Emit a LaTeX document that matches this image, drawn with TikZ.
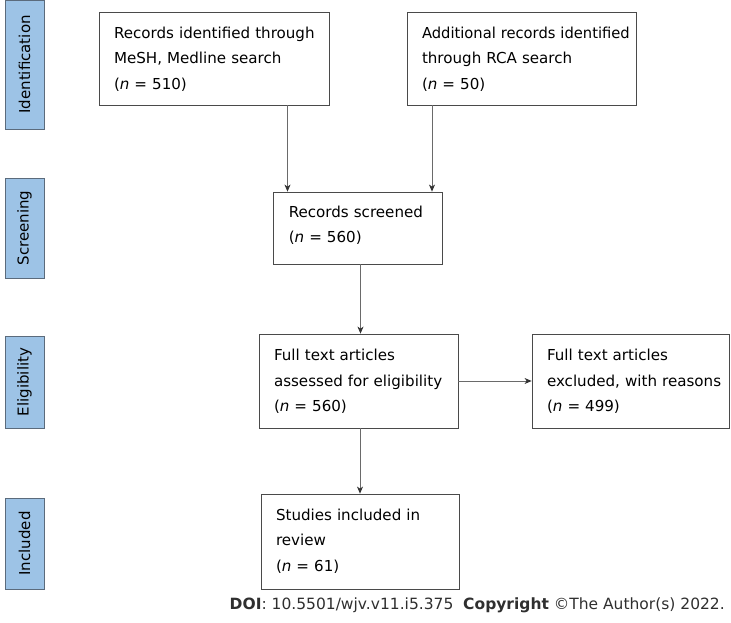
\documentclass[tikz,border=0pt]{standalone}
\usepackage{fontspec}
\usepackage{graphicx}
\setmainfont{DejaVu Sans}
\usetikzlibrary{arrows.meta}
\definecolor{lblfill}{HTML}{9DC3E6}
\definecolor{lbldraw}{HTML}{5B6B7C}
\definecolor{boxdraw}{HTML}{4A4A4A}
\definecolor{arrowc}{HTML}{6A6A6A}
\definecolor{foot}{HTML}{2F2F2F}
\hbadness=10000 \hfuzz=100pt
\begin{document}
\begin{tikzpicture}[x=1pt,y=-1pt,
  stage/.style={draw=lbldraw,fill=lblfill,line width=0.9pt,inner sep=0pt},
  stagetext/.style={rotate=90,font=\fontsize{15}{18}\selectfont},
  flowbox/.style={draw=boxdraw,line width=0.8pt,rectangle,align=left,
    inner xsep=15pt,inner ysep=0pt,font=\fontsize{15.1}{25.5}\selectfont,
    text height=18pt},
  conn/.style={draw=arrowc,line width=0.8pt,-{Stealth[length=7pt,width=6pt,inset=2pt,color=black!80]}}]
\useasboundingbox (0,0) rectangle (731,623);
% stage labels
\node[stage,minimum width=39pt,minimum height=129pt] (sid) at (24.5,64.5) {};
\node[stagetext] (tid) at (sid.center) {Identification};
\node[stage,minimum width=39pt,minimum height=100pt] (ssc) at (24.5,228) {};
\node[stagetext] (tsc) at (ssc.center) {Screening};
\node[stage,minimum width=39pt,minimum height=92pt] (sel) at (24.5,382) {};
\node[stagetext] (tel) at (sel.center) {Eligibility};
\node[stage,minimum width=39pt,minimum height=91pt] (sin) at (24.5,543.5) {};
\node[stagetext] (tin) at (sin.center) {Included};
% boxes
\node[flowbox,minimum width=230pt,minimum height=93pt,text width=200pt,text depth=58.4pt] (b1) at (214,58.5)
  {\mbox{Records identified through}\\\mbox{MeSH, Medline search}\\\mbox{(\textit{n} = 510)}};
\node[flowbox,minimum width=229pt,minimum height=93pt,text width=199pt,text depth=58.4pt] (b2) at (521.5,58.5)
  {\scalebox{0.975}[1]{Additional records identified}\\\mbox{through RCA search}\\\mbox{(\textit{n} = 50)}};
\node[flowbox,minimum width=169pt,minimum height=72pt,text width=139pt,text depth=39.4pt] (b3) at (358.3,228)
  {\mbox{Records screened}\\\mbox{(\textit{n} = 560)}};
\node[flowbox,minimum width=199pt,minimum height=94pt,text width=169pt,text depth=58.6pt] (b4) at (358.5,381)
  {\mbox{Full text articles}\\\mbox{assessed for eligibility}\\\mbox{(\textit{n} = 560)}};
\node[flowbox,minimum width=197pt,minimum height=94pt,text width=167pt,text depth=58.6pt] (b5) at (630.5,381)
  {\mbox{Full text articles}\\\mbox{excluded, with reasons}\\\mbox{(\textit{n} = 499)}};
\node[flowbox,minimum width=198pt,minimum height=95pt,text width=168pt,text depth=61pt] (b6) at (360,541.5)
  {\mbox{Studies included in}\\\mbox{review}\\\mbox{(\textit{n} = 61)}};
% connectors
\draw[conn] (b1.south -| 287.5,0) -- (b3.north -| 287.5,0);
\draw[conn] (b2.south -| 432,0) -- (b3.north -| 432,0);
\draw[conn] (b3.south -| 360.5,0) -- (b4.north -| 360.5,0);
\draw[conn] (b4.east) -- (b5.west);
\draw[conn] (b4.south -| 360,0) -- (b6.north -| 360,0);
% footer
\node[anchor=base east,text=foot,font=\fontsize{15.5}{18}\selectfont,inner sep=0pt] (foot) at (725,609.5)
  {\textbf{DOI}: 10.5501/wjv.v11.i5.375\ \ \textbf{Copyright} \textcopyright The Author(s) 2022.};
\end{tikzpicture}
\end{document}
